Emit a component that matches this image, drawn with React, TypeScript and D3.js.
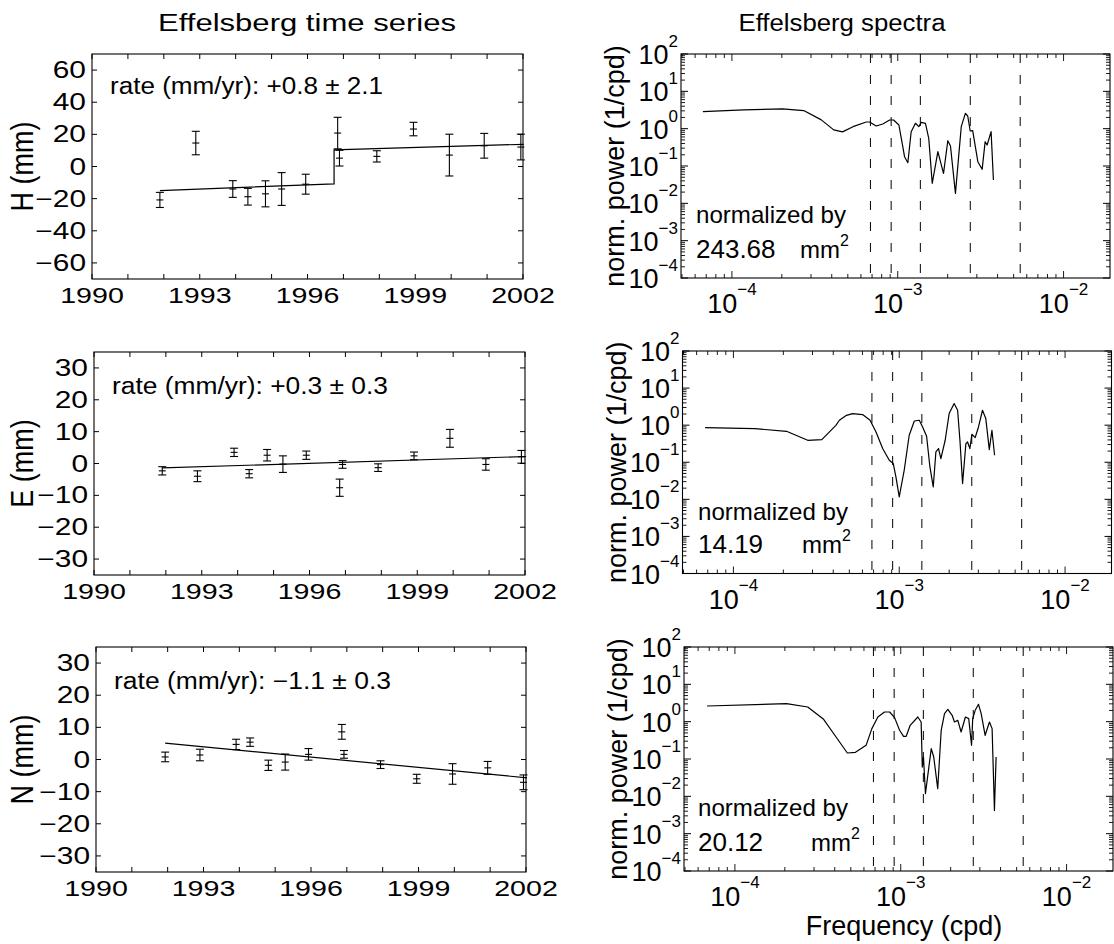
import React from 'react';
import * as d3 from 'd3';

const W = 1114;
const H = 944;
const FONT = '"Liberation Sans", Arial, Helvetica, sans-serif';
const SX = 1.3; // horizontal stretch of the left-hand figure's lettering

// ---------------- Time series data ----------------
const hYears = [1991.89, 1992.89, 1993.92, 1994.34, 1994.83, 1995.28, 1995.95, 1996.84, 1996.89, 1997.93, 1998.95, 1999.95, 2000.92, 2001.94];
const hValues = [-20.8, 14.6, -14.0, -18.8, -17.0, -14.0, -11.0, 20.8, 5.2, 6.3, 23.3, 7.1, 12.9, 12.1];
const hErrors = [4.7, 7.3, 5.2, 5.2, 8.1, 10.2, 6.2, 9.8, 4.9, 3.5, 4.2, 13.0, 7.7, 8.0];
const hTrendYears = [1991.89, 1996.74, 1996.74, 2002.02];
const hTrendValues = [-15.0, -10.8, 10.4, 13.8];

const eYears = [1991.90, 1992.88, 1993.90, 1994.32, 1994.82, 1995.26, 1995.91, 1996.84, 1996.92, 1997.91, 1998.91, 1999.91, 2000.91, 2001.90];
const eValues = [-2.3, -4.0, 3.5, -3.2, 2.6, -0.2, 2.6, -7.6, -0.3, -1.3, 2.4, 7.9, -0.3, 2.1];
const eErrors = [1.3, 1.7, 1.3, 1.3, 1.8, 2.6, 1.3, 2.7, 1.2, 1.2, 1.2, 2.8, 1.8, 2.0];
const eTrendYears = [1991.90, 2002.03];
const eTrendValues = [-1.4, 2.2];

const nYears = [1991.93, 1992.90, 1993.91, 1994.30, 1994.81, 1995.28, 1995.93, 1996.86, 1996.92, 1997.94, 1998.95, 1999.95, 2000.93, 2001.93];
const nValues = [0.8, 1.4, 4.7, 5.4, -1.8, -0.8, 1.6, 8.6, 1.6, -1.6, -6.0, -4.5, -2.6, -7.1];
const nErrors = [1.5, 1.8, 1.6, 1.3, 1.6, 2.5, 1.8, 2.3, 1.2, 1.2, 1.4, 3.2, 2.0, 2.3];
const nTrendYears = [1991.93, 2002.03];
const nTrendValues = [5.1, -5.7];

const yearTickLabels = [1990, 1993, 1996, 1999, 2002];
const hYTicks = [60, 40, 20, 0, -20, -40, -60];
const enYTicks = [30, 20, 10, 0, -10, -20, -30];

// ---------------- Spectra data (log10 of frequency in cpd, log10 of normalized power) ----------------
const hSpecLogF = [-4.175, -3.930, -3.695, -3.567, -3.461, -3.386, -3.333, -3.270, -3.190, -3.170, -3.130, -3.090, -3.049, -3.025, -2.993, -2.973, -2.959, -2.939, -2.919, -2.893, -2.873, -2.858, -2.833, -2.813, -2.792, -2.758, -2.724, -2.698, -2.682, -2.652, -2.617, -2.592, -2.578, -2.563, -2.548, -2.517, -2.491, -2.473, -2.461, -2.437, -2.423];
const hSpecLogP = [0.458, 0.503, 0.529, 0.485, 0.235, -0.032, -0.086, 0.053, 0.178, 0.178, 0.071, 0.125, 0.232, 0.232, 0.098, -0.392, -0.751, -0.912, -0.081, 0.144, 0.053, 0.170, 0.144, -0.258, -1.464, -0.617, -1.196, -0.323, -0.465, -1.732, 0.053, 0.411, 0.339, -0.063, -0.055, -0.885, -1.089, -0.349, -0.438, -0.081, -1.375];

const eSpecLogF = [-4.171, -3.872, -3.680, -3.552, -3.467, -3.382, -3.361, -3.318, -3.281, -3.221, -3.176, -3.140, -3.100, -3.060, -3.036, -3.020, -3.000, -2.970, -2.940, -2.909, -2.879, -2.859, -2.835, -2.815, -2.795, -2.779, -2.763, -2.749, -2.723, -2.699, -2.669, -2.648, -2.634, -2.618, -2.598, -2.588, -2.574, -2.562, -2.542, -2.522, -2.498, -2.478, -2.457, -2.441, -2.425];
const eSpecLogP = [-0.067, -0.093, -0.165, -0.408, -0.390, -0.004, 0.132, 0.266, 0.312, 0.285, 0.132, -0.183, -0.631, -0.946, -1.035, -1.396, -1.935, -1.216, -0.272, 0.113, 0.132, -0.049, -0.299, -1.127, -1.666, -0.722, -0.631, -0.900, -0.407, 0.312, 0.582, 0.402, -0.407, -1.574, -0.496, -0.453, -0.631, -0.245, -0.334, -0.049, 0.402, 0.178, -0.658, -0.137, -0.811];

const nSpecLogF = [-4.168, -3.689, -3.561, -3.465, -3.390, -3.322, -3.273, -3.209, -3.174, -3.138, -3.098, -3.067, -3.037, -3.007, -2.983, -2.967, -2.943, -2.897, -2.877, -2.870, -2.863, -2.851, -2.816, -2.801, -2.777, -2.756, -2.736, -2.716, -2.690, -2.676, -2.656, -2.636, -2.610, -2.590, -2.573, -2.566, -2.551, -2.531, -2.515, -2.491, -2.465, -2.449, -2.435, -2.425];
const nSpecLogP = [0.420, 0.482, 0.393, 0.063, -0.411, -0.839, -0.821, -0.634, -0.187, 0.125, 0.259, 0.259, 0.109, -0.231, -0.392, -0.392, -0.097, 0.125, -0.009, -1.215, -0.947, -1.927, -0.722, -0.947, -1.793, -0.231, 0.216, 0.331, 0.170, -0.009, 0.036, -0.277, 0.125, 0.082, -0.633, 0.082, 0.304, 0.465, 0.216, -0.365, -0.009, -0.187, -2.380, -0.947];

// reference periods (years) for dashed lines
const periodsYears = [4, 3, 2, 1, 0.5];
const specYDecades = [2, 1, 0, -1, -2, -3, -4];
const specXDecades = [-4, -3, -2];

const MINUS = '\u2212';
const fmt = (v: number) => (v < 0 ? MINUS + Math.abs(v) : String(v));

function ST(props: { x: number; y: number; sx?: number; anchor?: string; size: number; children: React.ReactNode }) {
  const sx = props.sx ?? SX;
  return (
    <text transform={`translate(${props.x},${props.y}) scale(${sx},1)`} textAnchor={props.anchor || 'start'}
      fontSize={props.size} fontFamily={FONT}>{props.children}</text>
  );
}

type TSProps = {
  left: number; top: number; width: number; height: number;
  yMax: number; yTicks: number[];
  years: number[]; values: number[]; errors: number[];
  trendX: number[]; trendY: number[];
  ylabel: string; rate: string; rateX: number; rateY: number; rateLen: number;
};

function TimePanel(p: TSProps) {
  const x = d3.scaleLinear().domain([1990, 2002]).range([p.left, p.left + p.width]);
  const y = d3.scaleLinear().domain([-p.yMax, p.yMax]).range([p.top + p.height, p.top]);
  const bottom = p.top + p.height;
  const right = p.left + p.width;
  const years = d3.range(1990, 2003);
  const trend = d3.line<number>().x((_, i) => x(p.trendX[i])).y((d) => y(d))(p.trendY) || '';
  const tl = 5;
  return (
    <g>
      {years.map((yr) => (
        <g key={'xt' + yr}>
          <line x1={x(yr)} x2={x(yr)} y1={bottom} y2={bottom - tl} stroke="#000" />
          <line x1={x(yr)} x2={x(yr)} y1={p.top} y2={p.top + tl} stroke="#000" />
        </g>
      ))}
      {p.yTicks.map((v) => (
        <g key={'yt' + v}>
          <line x1={p.left} x2={p.left + tl} y1={y(v)} y2={y(v)} stroke="#000" />
          <line x1={right} x2={right - tl} y1={y(v)} y2={y(v)} stroke="#000" />
          <ST x={p.left - 6} y={y(v) + 8} anchor="end" size={23}>{fmt(v)}</ST>
        </g>
      ))}
      {yearTickLabels.map((yr) => (
        <ST key={'xl' + yr} x={x(yr)} y={bottom + 24} anchor="middle" size={22}>{yr}</ST>
      ))}
      <rect x={p.left} y={p.top} width={p.width} height={p.height} fill="none" stroke="#000" strokeWidth={1.1} />
      <path d={trend} fill="none" stroke="#000" strokeWidth={1.2} />
      {p.years.map((yr, i) => {
        const cx = x(yr);
        const cy = y(p.values[i]);
        const y1 = y(p.values[i] + p.errors[i]);
        const y2 = y(p.values[i] - p.errors[i]);
        return (
          <g key={'e' + i} stroke="#000" strokeWidth={1.1}>
            <line x1={cx} x2={cx} y1={y1} y2={y2} />
            <line x1={cx - 4} x2={cx + 4} y1={y1} y2={y1} />
            <line x1={cx - 4} x2={cx + 4} y1={y2} y2={y2} />
            <line x1={cx - 3.5} x2={cx + 3.5} y1={cy} y2={cy} />
          </g>
        );
      })}
      <text x={p.rateX} y={p.rateY} fontSize={23} fontFamily={FONT} textLength={p.rateLen} lengthAdjust="spacingAndGlyphs">{p.rate}</text>
      <text transform={`translate(33,${p.top + p.height / 2}) scale(1.15,1) rotate(-90)`} textAnchor="middle" fontSize={27} fontFamily={FONT}>{p.ylabel}</text>
    </g>
  );
}

type SPProps = {
  left: number; top: number; width: number; height: number;
  logF: number[]; logP: number[];
  norm: string; textX: number; normY: number; valY: number; mmX: number; showXLabel?: boolean;
};

function SpecPanel(p: SPProps) {
  const x = d3.scaleLog().domain([Math.pow(10, -4.307), Math.pow(10, -1.72)]).range([p.left, p.left + p.width]);
  const y = d3.scaleLog().domain([1e-4, 1e2]).range([p.top + p.height, p.top]);
  const bottom = p.top + p.height;
  const right = p.left + p.width;
  const [d0, d1] = x.domain();
  const xMinor: number[] = [];
  for (let e = -5; e <= -1; e++) for (let k = 1; k <= 9; k++) {
    const v = k * Math.pow(10, e);
    if (v >= d0 && v <= d1) xMinor.push(v);
  }
  const yMinor: number[] = [];
  for (let e = -4; e <= 1; e++) for (let k = 2; k <= 9; k++) yMinor.push(k * Math.pow(10, e));
  const pts = p.logF.map((f, i) => [Math.pow(10, f), Math.pow(10, p.logP[i])] as [number, number]);
  const path = d3.line<[number, number]>().x((d) => x(d[0])).y((d) => y(d[1]))(pts) || '';
  return (
    <g>
      {xMinor.map((v, i) => {
        const major = Math.abs(Math.log10(v) - Math.round(Math.log10(v))) < 1e-9;
        const l = major ? 7 : 4;
        return (
          <g key={'xm' + i} stroke="#000" strokeWidth={0.9}>
            <line x1={x(v)} x2={x(v)} y1={bottom} y2={bottom - l} />
            <line x1={x(v)} x2={x(v)} y1={p.top} y2={p.top + l} />
          </g>
        );
      })}
      {yMinor.map((v, i) => (
        <g key={'ym' + i} stroke="#000" strokeWidth={0.9}>
          <line x1={p.left} x2={p.left + 4} y1={y(v)} y2={y(v)} />
          <line x1={right} x2={right - 4} y1={y(v)} y2={y(v)} />
        </g>
      ))}
      {specYDecades.map((e) => (
        <g key={'yd' + e}>
          <line x1={p.left} x2={p.left + 7} y1={y(Math.pow(10, e))} y2={y(Math.pow(10, e))} stroke="#000" />
          <line x1={right} x2={right - 7} y1={y(Math.pow(10, e))} y2={y(Math.pow(10, e))} stroke="#000" />
          <text x={p.left - 3} y={y(Math.pow(10, e)) + 10} textAnchor="end" fontFamily={FONT} fontSize={27}>
            10<tspan dy={-17} fontSize={17}>{e < 0 ? MINUS + Math.abs(e) : e}</tspan>
          </text>
        </g>
      ))}
      {specXDecades.map((e) => (
        <text key={'xd' + e} x={x(Math.pow(10, e))} y={bottom + 35} textAnchor="middle" fontFamily={FONT} fontSize={27}>
          10<tspan dy={-18} fontSize={17}>{MINUS + Math.abs(e)}</tspan>
        </text>
      ))}
      {periodsYears.map((py) => {
        const fx = x(1 / (py * 365.25));
        return <line key={'d' + py} x1={fx} x2={fx} y1={p.top} y2={bottom} stroke="#000" strokeWidth={1} strokeDasharray="9,12" />;
      })}
      <rect x={p.left} y={p.top} width={p.width} height={p.height} fill="none" stroke="#000" strokeWidth={1.1} />
      <path d={path} fill="none" stroke="#000" strokeWidth={1.2} strokeLinejoin="round" />
      <text x={p.textX} y={p.normY} fontFamily={FONT} fontSize={24} textLength={150} lengthAdjust="spacingAndGlyphs">normalized by</text>
      <text x={p.textX} y={p.valY} fontFamily={FONT} fontSize={26}>{p.norm}</text>
      <text x={p.mmX} y={p.valY} fontFamily={FONT} fontSize={24}>mm<tspan dy={-12} fontSize={16}>2</tspan></text>
      <text transform={`translate(${p.left - 57},${p.top + p.height / 2}) rotate(-90)`} textAnchor="middle" fontSize={27} fontFamily={FONT}>norm. power (1/cpd)</text>
      {p.showXLabel && (
        <text x={p.left + 220} y={935} textAnchor="middle" fontSize={27} fontFamily={FONT}>Frequency (cpd)</text>
      )}
    </g>
  );
}

export default function App() {
  return (
    <svg width={W} height={H} viewBox={`0 0 ${W} ${H}`} style={{ position: 'absolute', left: 0, top: 0, background: '#fff' }}>
      <rect x={0} y={0} width={W} height={H} fill="#fff" />
      <text x={307} y={31} textAnchor="middle" fontSize={23} fontFamily={FONT} textLength={298} lengthAdjust="spacingAndGlyphs">Effelsberg time series</text>
      <text x={842} y={31} textAnchor="middle" fontSize={23} fontFamily={FONT} textLength={207} lengthAdjust="spacingAndGlyphs">Effelsberg spectra</text>

      <TimePanel left={92} top={54} width={431} height={225} yMax={70} yTicks={hYTicks}
        years={hYears} values={hValues} errors={hErrors} trendX={hTrendYears} trendY={hTrendValues}
        ylabel="H (mm)" rate={`rate (mm/yr):  +0.8 \u00b1 2.1`} rateX={110} rateY={94} rateLen={273} />
      <TimePanel left={94} top={352} width={431} height={223} yMax={35} yTicks={enYTicks}
        years={eYears} values={eValues} errors={eErrors} trendX={eTrendYears} trendY={eTrendValues}
        ylabel="E (mm)" rate={`rate (mm/yr):  +0.3 \u00b1 0.3`} rateX={112} rateY={394} rateLen={276} />
      <TimePanel left={96} top={647} width={430} height={225} yMax={35} yTicks={enYTicks}
        years={nYears} values={nValues} errors={nErrors} trendX={nTrendYears} trendY={nTrendValues}
        ylabel="N (mm)" rate={`rate (mm/yr):  ${MINUS}1.1 \u00b1 0.3`} rateX={114} rateY={689} rateLen={277} />

      <SpecPanel left={681} top={54} width={429} height={224} logF={hSpecLogF} logP={hSpecLogP}
        norm="243.68" textX={696} normY={223} valY={258} mmX={800} />
      <SpecPanel left={682.5} top={351} width={429} height={222.5} logF={eSpecLogF} logP={eSpecLogP}
        norm="14.19" textX={698} normY={520} valY={553} mmX={802} />
      <SpecPanel left={684} top={647} width={429} height={224} logF={nSpecLogF} logP={nSpecLogP}
        norm="20.12" textX={698} normY={816} valY={851} mmX={811} showXLabel />
    </svg>
  );
}
